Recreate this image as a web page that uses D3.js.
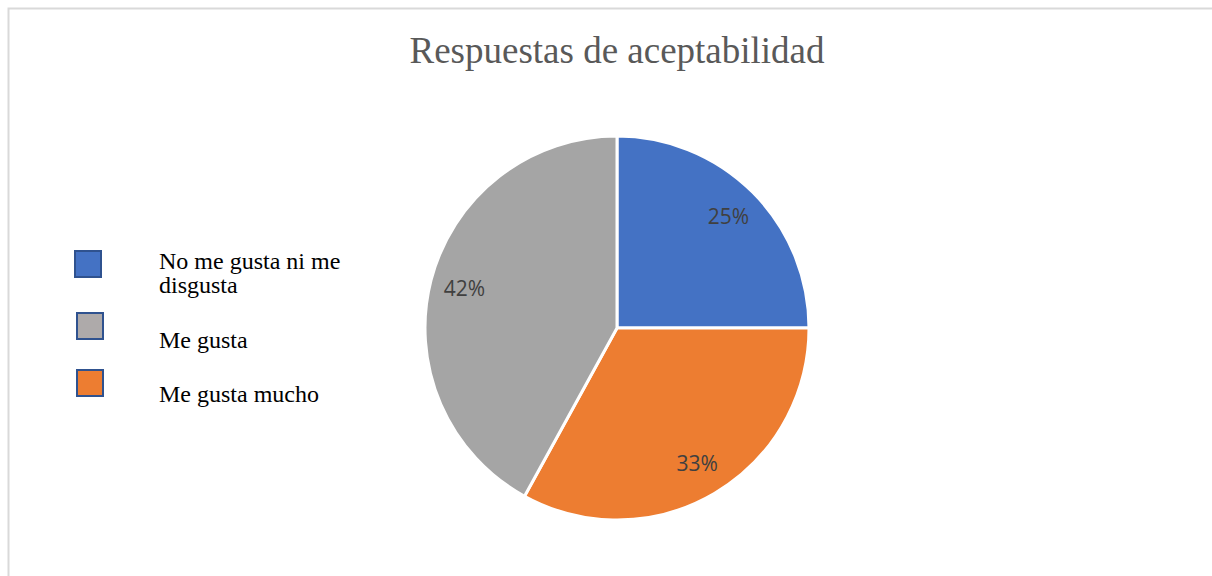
<!DOCTYPE html>
<html>
<head>
<meta charset="utf-8">
<style>
  body { margin: 0; background: #fff; }
  svg { display: block; }
</style>
</head>
<body>
<div id="chart"></div>
<script src="https://cdn.jsdelivr.net/npm/d3@7"></script>
<script>
// data
var categories = ["No me gusta ni me disgusta", "Me gusta mucho", "Me gusta"];
var values = [25, 33, 42];
var colors = ["#4472c4", "#ed7d31", "#a5a5a5"];
// legend order as shown
var legendLabels = [["No me gusta ni me", "disgusta"], ["Me gusta"], ["Me gusta mucho"]];
var legendColors = ["#4472c4", "#aeaaaa", "#ed7d31"];
var title = "Respuestas de aceptabilidad";

var width = 1212, height = 576;
var cx = 617, cy = 328, radius = 192;

var svg = d3.select("#chart").append("svg")
  .attr("width", width)
  .attr("height", height);

svg.append("rect").attr("width", width).attr("height", height).attr("fill", "#fff");

// frame
svg.append("path")
  .attr("d", "M8.5," + height + " V8.5 H" + width)
  .attr("fill", "none")
  .attr("stroke", "#d9d9d9")
  .attr("stroke-width", 2);

svg.append("text")
  .attr("x", cx)
  .attr("y", 63)
  .attr("text-anchor", "middle")
  .attr("font-family", "'Liberation Serif', 'Times New Roman', serif")
  .attr("font-size", "37px")
  .attr("fill", "#595959")
  .text(title);

var pie = d3.pie().sort(null).value(function(d){ return d; });
var arc = d3.arc().innerRadius(0).outerRadius(radius);
var labelArc = d3.arc().innerRadius(radius * 0.82).outerRadius(radius * 0.82);

var g = svg.append("g").attr("transform", "translate(" + cx + "," + cy + ")");

var slices = g.selectAll(".slice")
  .data(pie(values))
  .enter().append("g").attr("class", "slice");

slices.append("path")
  .attr("d", arc)
  .attr("fill", function(d, i){ return colors[i]; })
  .attr("stroke", "#fff")
  .attr("stroke-width", 3)
  .attr("stroke-linejoin", "round");

slices.append("text")
  .attr("transform", function(d){ return "translate(" + labelArc.centroid(d) + ")"; })
  .attr("dy", "0.35em")
  .attr("text-anchor", "middle")
  .attr("font-family", "'Open Sans', 'Liberation Sans', sans-serif")
  .attr("font-size", "21px")
  .attr("fill", "#404040")
  .text(function(d){ return d.value + "%"; });

// legend
var legendBoxX = [74, 76, 76];
var legendBoxY = [250, 312, 369];
var legendTextY = [269, 348, 402];

var legend = svg.selectAll(".legend")
  .data(legendLabels)
  .enter().append("g").attr("class", "legend");

legend.append("rect")
  .attr("x", function(d, i){ return legendBoxX[i] + 1; })
  .attr("y", function(d, i){ return legendBoxY[i] + 1; })
  .attr("width", 26)
  .attr("height", 26)
  .attr("fill", function(d, i){ return legendColors[i]; })
  .attr("stroke", "#2f528f")
  .attr("stroke-width", 2);

legend.append("text")
  .attr("x", 159)
  .attr("y", function(d, i){ return legendTextY[i]; })
  .attr("font-family", "'Liberation Serif', 'Times New Roman', serif")
  .attr("font-size", "24px")
  .attr("fill", "#000")
  .selectAll("tspan")
  .data(function(d){ return d; })
  .enter().append("tspan")
  .attr("x", 159)
  .attr("dy", function(d, i){ return i === 0 ? 0 : 24; })
  .text(function(d){ return d; });
</script>
</body>
</html>
